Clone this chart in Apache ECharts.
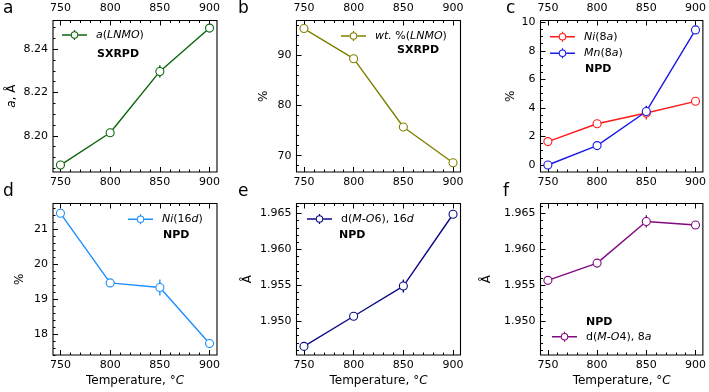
<!DOCTYPE html>
<html><head><meta charset="utf-8">
<script src="https://cdn.jsdelivr.net/npm/echarts@6/dist/echarts.min.js"></script>
<style>html,body{margin:0;padding:0;background:#fff}#c{width:709px;height:392px}</style>
</head><body><div id="c"></div>
<script>
// ---- data ----
const temps = [750, 800, 850, 900];
const xTicks = [750, 800, 850, 900];

const latticeA = [8.1865, 8.2014, 8.2297, 8.2497];
const latticeAErr = [0.0004, 0.0004, 0.0028, 0.0004];
const wtLNMO = [95.3, 89.3, 75.7, 68.6];
const wtLNMOErr = [0.3, 0.3, 0.3, 0.3];
const ni8a = [1.64, 2.89, 3.64, 4.46];
const ni8aErr = [0.1, 0.1, 0.45, 0.1];
const mn8a = [0.0, 1.36, 3.75, 9.46];
const mn8aErr = [0.1, 0.1, 0.4, 0.1];
const ni16d = [21.45, 19.46, 19.33, 17.73];
const ni16dErr = [0.05, 0.05, 0.23, 0.12];
const dMO6 = [1.9465, 1.9507, 1.9549, 1.9649];
const dMO6Err = [0.0002, 0.0002, 0.0009, 0.0002];
const dMO4 = [1.9557, 1.9581, 1.9639, 1.9634];
const dMO4Err = [0.0002, 0.0002, 0.00085, 0.0002];

const yTicksA = [8.20, 8.22, 8.24];
const yTicksB = [70, 80, 90];
const yTicksC = [0, 2, 4, 6, 8, 10];
const yTicksD = [18, 19, 20, 21];
const yTicksE = [1.950, 1.955, 1.960, 1.965];
const yTicksF = [1.950, 1.955, 1.960, 1.965];

const FONT = 'DejaVu Sans';
const chart = echarts.init(document.getElementById('c'), null, {renderer: 'canvas'});

function minorTicks(major, step, lo, hi) {
  const out = [];
  const start = Math.ceil((lo - 1e-9) / step);
  const end = Math.floor((hi + 1e-9) / step);
  for (let k = start; k <= end; k++) {
    const v = +(k * step).toFixed(6);
    if (!major.some(m => Math.abs(m - v) < step / 10)) out.push(v);
  }
  return out;
}

const panels = [
  {left: 53, top: 20.5, ymin: 8.1833, ymax: 8.2532, yTicks: yTicksA, yStep: 0.005, dec: 2,
   yName: '{i|a}, Å', nameGap: 35, topLabels: true, bottomName: false,
   series: [{name: 'a(LNMO)', values: latticeA, err: latticeAErr, color: '#0b650b'}]},
  {left: 296.5, top: 20.5, ymin: 66.75, ymax: 96.9, yTicks: yTicksB, yStep: 2, dec: 0,
   yName: '%', nameGap: 27, topLabels: true, bottomName: false,
   series: [{name: 'wt.%(LNMO)', values: wtLNMO, err: wtLNMOErr, color: '#808000'}]},
  {left: 540.5, top: 20.5, ymin: -0.49, ymax: 10.12, yTicks: yTicksC, yStep: 0.5, dec: 0,
   yName: '%', nameGap: 24, topLabels: true, bottomName: false,
   series: [{name: 'Ni(8a)', values: ni8a, err: ni8aErr, color: '#ff1a1a'},
            {name: 'Mn(8a)', values: mn8a, err: mn8aErr, color: '#1a1ae6'}]},
  {left: 53, top: 203.5, ymin: 17.4, ymax: 21.73, yTicks: yTicksD, yStep: 0.2, dec: 0,
   yName: '%', nameGap: 27, topLabels: false, bottomName: true,
   series: [{name: 'Ni(16d)', values: ni16d, err: ni16dErr, color: '#1e8fff'}]},
  {left: 296.5, top: 203.5, ymin: 1.9453, ymax: 1.9664, yTicks: yTicksE, yStep: 0.001, dec: 3,
   yName: 'Å', nameGap: 43, topLabels: false, bottomName: true,
   series: [{name: 'd(M-O6), 16d', values: dMO6, err: dMO6Err, color: '#0a0a85'}]},
  {left: 540.5, top: 203.5, ymin: 1.9453, ymax: 1.9664, yTicks: yTicksF, yStep: 0.001, dec: 3,
   yName: 'Å', nameGap: 48, topLabels: false, bottomName: true,
   series: [{name: 'd(M-O4), 8a', values: dMO4, err: dMO4Err, color: '#800a80'}]}
];

const XMIN = 742.5, XMAX = 907.5;
const xMinor = minorTicks(xTicks, 10, XMIN, XMAX);
const W = 164, H = 151.5;

const richDef = {i: {fontStyle: 'italic', fontFamily: FONT, fontSize: 11, color: '#000'},
                 n: {fontFamily: FONT, fontSize: 11, color: '#000'}};
const legendText = {
  'a(LNMO)': '{i|a}({i|LNMO})',
  'wt.%(LNMO)': '{i|wt.}{n| %(}{i|LNMO}{n|)}',
  'Ni(8a)': '{i|Ni}{n|(8}{i|a}{n|)}',
  'Mn(8a)': '{i|Mn}{n|(8}{i|a}{n|)}',
  'Ni(16d)': '{i|Ni}{n|(16}{i|d}{n|)}',
  'd(M-O6), 16d': '{n|d(}{i|M-O}{n|6), 16}{i|d}',
  'd(M-O4), 8a': '{n|d(}{i|M-O}{n|4), 8}{i|a}'
};
// legend icon: line + open circle + error bar stubs (25 x 10 box)
const ICON = 'path://M0 4.3H8.7V5.7H0Z M16.3 4.3H25V5.7H16.3Z M11.9 0H13.1V1.3H11.9Z M11.9 8.7H13.1V10H11.9Z ' +
  'M8.7 5A3.8 3.8 0 1 1 16.3 5A3.8 3.8 0 1 1 8.7 5Z M9.8 5A2.7 2.7 0 1 0 15.2 5A2.7 2.7 0 1 0 9.8 5Z';

const nameStyle = {fontFamily: FONT, fontSize: 12, color: '#000',
  rich: {i: {fontStyle: 'italic', fontFamily: FONT, fontSize: 12, color: '#000'}}};
const grid = [], xAxis = [], yAxis = [], series = [];
const tickStyle = {color: '#000', width: 1};
panels.forEach((p, gi) => {
  grid.push({left: p.left, top: p.top, width: W, height: H, show: true,
             borderColor: '#000', borderWidth: 1.1, backgroundColor: 'transparent', containLabel: false});
  const xi = xAxis.length;
  const baseX = {type: 'value', gridIndex: gi, min: XMIN, max: XMAX, splitLine: {show: false},
                 axisLine: {show: false, onZero: false}};
  // bottom major
  xAxis.push(Object.assign({}, baseX, {position: 'bottom',
    axisTick: {show: true, inside: true, length: 5, lineStyle: tickStyle, customValues: xTicks},
    axisLabel: {show: true, customValues: xTicks, margin: 5, fontFamily: FONT, fontSize: 11, color: '#000'},
    name: p.bottomName ? 'Temperature, °{i|C}' : '', nameLocation: 'middle', nameGap: 20,
    nameTextStyle: nameStyle}));
  // bottom minor
  xAxis.push(Object.assign({}, baseX, {position: 'bottom',
    axisTick: {show: true, inside: true, length: 2.5, lineStyle: tickStyle, customValues: xMinor},
    axisLabel: {show: false}}));
  // top major
  xAxis.push(Object.assign({}, baseX, {position: 'top',
    axisTick: {show: true, inside: true, length: 5, lineStyle: tickStyle, customValues: xTicks},
    axisLabel: {show: p.topLabels, customValues: xTicks, margin: 7, fontFamily: FONT, fontSize: 11, color: '#000'}}));
  // top minor
  xAxis.push(Object.assign({}, baseX, {position: 'top',
    axisTick: {show: true, inside: true, length: 2.5, lineStyle: tickStyle, customValues: xMinor},
    axisLabel: {show: false}}));
  const yi = yAxis.length;
  const baseY = {type: 'value', gridIndex: gi, min: p.ymin, max: p.ymax, splitLine: {show: false},
                 axisLine: {show: false, onZero: false}, position: 'left'};
  yAxis.push(Object.assign({}, baseY, {
    axisTick: {show: true, inside: true, length: 5, lineStyle: tickStyle, customValues: p.yTicks},
    axisLabel: {show: true, customValues: p.yTicks, margin: 5, fontFamily: FONT, fontSize: 11, color: '#000',
                formatter: v => (+v).toFixed(p.dec)},
    name: p.yName, nameLocation: 'middle', nameGap: p.nameGap,
    nameTextStyle: nameStyle}));
  yAxis.push(Object.assign({}, baseY, {
    axisTick: {show: true, inside: true, length: 2.5, lineStyle: tickStyle,
               customValues: minorTicks(p.yTicks, p.yStep, p.ymin, p.ymax)},
    axisLabel: {show: false}}));
  p.series.forEach(s => {
    series.push({type: 'custom', xAxisIndex: xi, yAxisIndex: yi, z: 1, silent: true,
      data: temps.map((t, k) => [t, s.values[k], s.err[k]]),
      encode: {x: 0, y: 1},
      renderItem: (params, api) => {
        const x = api.value(0), y = api.value(1), e = api.value(2);
        const a = api.coord([x, y - e]), b = api.coord([x, y + e]);
        return {type: 'line', shape: {x1: a[0], y1: a[1], x2: b[0], y2: b[1]},
                style: {stroke: s.color, lineWidth: 1.4}};
      }});
    series.push({type: 'line', name: s.name, xAxisIndex: xi, yAxisIndex: yi, z: 3,
      data: temps.map((t, k) => [t, s.values[k]]),
      symbol: 'circle', symbolSize: 8, showSymbol: true,
      lineStyle: {color: s.color, width: 1.4},
      itemStyle: {color: '#fff', borderColor: s.color, borderWidth: 1.1},
      emphasis: {disabled: true}});
  });
});

const legendPos = [
  {name: 'a(LNMO)', left: 62, cy: 35},
  {name: 'wt.%(LNMO)', left: 341, cy: 36},
  {name: 'Ni(8a)', left: 550, cy: 36.7},
  {name: 'Mn(8a)', left: 550, cy: 53.3},
  {name: 'Ni(16d)', left: 128, cy: 219.3},
  {name: 'd(M-O6), 16d', left: 307, cy: 219},
  {name: 'd(M-O4), 8a', left: 552, cy: 336.7}
];
const colorOf = {};
panels.forEach(p => p.series.forEach(s => colorOf[s.name] = s.color));
const legend = legendPos.map(l => ({
  left: l.left, top: l.cy - 7, padding: 0, itemWidth: 25, itemHeight: 10, itemGap: 0,
  selectedMode: false, orient: 'vertical',
  data: [{name: l.name, icon: ICON, itemStyle: {color: colorOf[l.name], borderWidth: 0}}],
  formatter: n => legendText[n],
  textStyle: {fontFamily: FONT, fontSize: 11, color: '#000', lineHeight: 14, padding: [0, 0, 0, 4], rich: richDef}
}));

const labels = [
  {t: 'a', x: 3, y: 0}, {t: 'b', x: 238, y: 0}, {t: 'c', x: 506, y: 0},
  {t: 'd', x: 3, y: 183}, {t: 'e', x: 238, y: 183}, {t: 'f', x: 503, y: 183}
];
const tags = [
  {t: 'SXRPD', x: 97, cy: 54}, {t: 'SXRPD', x: 397, cy: 50}, {t: 'NPD', x: 585, cy: 69},
  {t: 'NPD', x: 163, cy: 235}, {t: 'NPD', x: 339, cy: 235}, {t: 'NPD', x: 586, cy: 321.7}
];
const title = labels.map(l => ({text: l.t, left: l.x, top: l.y, padding: 0,
    textStyle: {fontFamily: FONT, fontSize: 17, fontWeight: 'normal', color: '#000'}}))
  .concat(tags.map(g => ({text: g.t, left: g.x, top: g.cy - 7, padding: 0,
    textStyle: {fontFamily: FONT, fontSize: 11, fontWeight: 'bold', color: '#000', lineHeight: 14}})));

chart.setOption({animation: false, backgroundColor: '#fff', title, legend, grid, xAxis, yAxis, series});
</script>
</body></html>
